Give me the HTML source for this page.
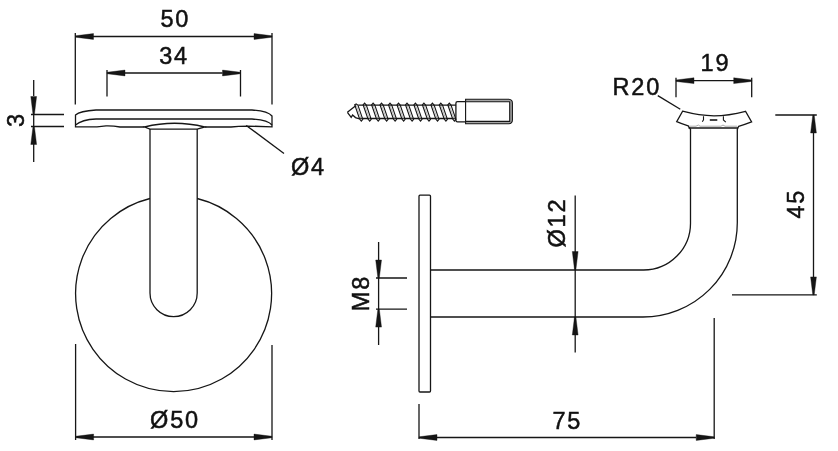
<!DOCTYPE html>
<html><head><meta charset="utf-8">
<style>
html,body{margin:0;padding:0;background:#fff;}
body{width:838px;height:451px;overflow:hidden;}
svg{display:block;will-change:transform;}
text{font-family:"Liberation Sans",sans-serif;font-size:23.5px;fill:#111;stroke:#111;stroke-width:0.5px;letter-spacing:1.8px;}
</style></head><body>
<svg width="838" height="451" viewBox="0 0 838 451">
<g fill="none" stroke="#161616" stroke-width="1.3">
<!-- LEFT VIEW -->
<path d="M75.3,33 V104.5 M272,33 V104.5 M93,36.5 H254"/>
<path d="M107,70 V96.6 M240.5,70 V96.6 M125,73 H222.5"/>
<path d="M33.7,80 V96 M33.7,144 V162 M33.7,114.5 V126.5 M31,114.5 H64 M31,126.5 H64"/>
<!-- plate -->
<path d="M144.5,127 H120 Q113,125.7 106,125.9 L97,126.9 H75.5 V115 Q80,111 96,110 H252 Q268,111 272,116 V126.8 L248,126.1 Q238,126.3 231,127 H204.7"/>
<path d="M75.5,125 Q82,119.5 96,119 L252,119 Q268,120 272,125"/>
<!-- stem -->
<path d="M144.5,127 Q174.5,119.5 204.7,127 L197.2,129.1 L150,129.1 Z"/>
<path d="M150,129.1 V293 A23.6,23.6 0 0 0 197.2,293 V129.1"/>
<path d="M150,198.5 A98,98 0 1 0 197.2,198.5"/>
<path d="M246.2,125.4 L284,153.4"/>
<!-- O50 -->
<path d="M75.6,344 V440 M272,345 V440 M93,437 H254"/>
<!-- screw -->
<path d="M347.4,112.3 L356,105.6 M358.3,105.1 H455.9 M347.4,112.3 L351.2,117.3 L352.6,115 L355.5,117.6 L358.5,118.5 H455.9"/>
<path stroke-width="1.1" d="M356.2,104.0 L357.9,105.1 L362.8,119.3 L361.3,121.2 L359.6,119 L354.7,104.8 Z M364.6,103.1 L366.3,105.1 L371.2,119.3 L369.7,121.2 L368.0,119 L363.1,104.8 Z M373.1,103.1 L374.8,105.1 L379.7,119.3 L378.2,121.2 L376.5,119 L371.6,104.8 Z M381.5,103.1 L383.2,105.1 L388.1,119.3 L386.6,121.2 L384.9,119 L380.0,104.8 Z M390.0,103.1 L391.7,105.1 L396.6,119.3 L395.1,121.2 L393.4,119 L388.5,104.8 Z M398.5,103.1 L400.2,105.1 L405.1,119.3 L403.6,121.2 L401.9,119 L397.0,104.8 Z M407.0,103.1 L408.7,105.1 L413.6,119.3 L412.1,121.2 L410.4,119 L405.5,104.8 Z M415.4,103.1 L417.1,105.1 L422.0,119.3 L420.5,121.2 L418.8,119 L413.9,104.8 Z M423.9,103.1 L425.6,105.1 L430.5,119.3 L429.0,121.2 L427.3,119 L422.4,104.8 Z M432.4,103.1 L434.1,105.1 L439.0,119.3 L437.5,121.2 L435.8,119 L430.9,104.8 Z M440.8,103.1 L442.5,105.1 L447.4,119.3 L445.9,121.2 L444.2,119 L439.3,104.8 Z M449.3,103.1 L451.0,105.1 L455.9,119.3 L454.4,121.2 L452.7,119 L447.8,104.8 Z"/>
<path stroke-width="0.6" stroke="#888" d="M356.3,105.5 L361.2,119 M364.7,105.5 L369.6,119 M373.2,105.5 L378.1,119 M381.6,105.5 L386.5,119 M390.1,105.5 L395.0,119 M398.6,105.5 L403.5,119 M407.1,105.5 L412.0,119 M415.5,105.5 L420.4,119 M424.0,105.5 L428.9,119 M432.5,105.5 L437.4,119 M440.9,105.5 L445.8,119 M449.4,105.5 L454.3,119"/>
<path d="M465.6,101.7 H457.5 Q455.9,101.7 455.9,103.3 V120.3 Q455.9,121.9 457.5,121.9 H465.6"/>
<path fill="#a5a5a5" stroke-width="1.1" d="M465.6,99.3 H508.8 Q512.4,99.6 512.4,103 V120 Q512.4,123.5 508.8,123.7 H465.6 Z"/><path fill="#fff" stroke-width="1.1" d="M465.6,101.7 H509.7 V121.4 H465.6 Z"/>
<!-- RIGHT VIEW -->
<rect x="419" y="195.2" width="11.5" height="196.8" rx="1"/>
<path d="M430.5,270 H643 A47,47 0 0 0 690.5,222 V129 M430.5,317 H643 A94.3,94.3 0 0 0 737.3,222.7 V129"/>
<path d="M575.2,195.6 V352.6"/>
<path d="M378.6,242 V260 M378.6,278 V309 M378.6,327 V345 M376,278 H407 M376,309.1 H407"/>
<path d="M813.5,133 V277 M775.3,115 H816.8 M732,294.9 H816.8"/>
<path d="M419,404 V439 M714.2,318 V439 M437,437.5 H696"/>
<path d="M676,77.8 V97.3 M751.7,77.8 V97.3 M694,80.7 H734"/>
<path d="M657.8,95.6 L680.3,109.3"/>
<!-- saddle -->
<path d="M690.4,129.2 L688.2,125.8 Q681,123.5 676.7,121.6 L682.6,111.2 C696,114.8 702,115.8 714,115.8 C726,115.8 732,114.8 745.5,111.3 L751.6,121.9 Q745,124.5 738.6,126.3 L737.4,129.2"/>
<path d="M688.5,128 H738"/>
<path stroke="#aaa" stroke-width="1" d="M689,126.2 H696 L698.3,125 L700,126.2 H721 L723,125 L725,126.2 H737"/>
<path stroke-width="1.1" d="M703.5,116.2 V119.8 L702.3,121.8 M723.4,116.2 V120 L725.8,122.2"/>
<path stroke-width="1.6" d="M709.8,120 H717.3"/>
</g>
<g fill="#151515" stroke="#151515" stroke-width="0.4" stroke-linejoin="round">
<path d="M75.50,35.80 L93.50,33.60 L93.50,39.40 L75.50,37.20 Z M272.00,35.80 L254.00,33.60 L254.00,39.40 L272.00,37.20 Z M107.00,72.30 L125.00,70.10 L125.00,75.90 L107.00,73.70 Z M240.50,72.30 L222.50,70.10 L222.50,75.90 L240.50,73.70 Z M33.00,114.50 L30.80,96.50 L36.60,96.50 L34.40,114.50 Z M33.00,126.50 L30.80,144.50 L36.60,144.50 L34.40,126.50 Z M75.60,436.30 L93.60,434.10 L93.60,439.90 L75.60,437.70 Z M272.00,436.30 L254.00,434.10 L254.00,439.90 L272.00,437.70 Z M574.50,269.50 L572.30,251.50 L578.10,251.50 L575.90,269.50 Z M574.50,317.00 L572.30,335.00 L578.10,335.00 L575.90,317.00 Z M377.90,278.00 L375.70,260.00 L381.50,260.00 L379.30,278.00 Z M377.90,309.10 L375.70,327.10 L381.50,327.10 L379.30,309.10 Z M812.80,115.00 L810.60,133.00 L816.40,133.00 L814.20,115.00 Z M812.80,294.90 L810.60,276.90 L816.40,276.90 L814.20,294.90 Z M419.00,436.80 L437.00,434.60 L437.00,440.40 L419.00,438.20 Z M714.20,436.80 L696.20,434.60 L696.20,440.40 L714.20,438.20 Z M676.00,80.00 L694.00,77.80 L694.00,83.60 L676.00,81.40 Z M751.70,80.00 L733.70,77.80 L733.70,83.60 L751.70,81.40 Z"/>
</g>
<g>
<text x="160.5" y="26.9">50</text>
<text x="159.2" y="64.4">34</text>
<text x="150.1" y="427.7">Ø50</text>
<text x="291" y="175.2">Ø4</text>
<text x="552.4" y="428.5">75</text>
<text x="700.6" y="71.3">19</text>
<text x="612.5" y="95.1">R20</text>
<text transform="translate(24.2,126.9) rotate(-90)">3</text>
<text transform="translate(565,247.5) rotate(-90)">Ø12</text>
<text transform="translate(369.4,311.2) rotate(-90)">M8</text>
<text transform="translate(803.5,218.6) rotate(-90)">45</text>
</g>
</svg>
</body></html>
